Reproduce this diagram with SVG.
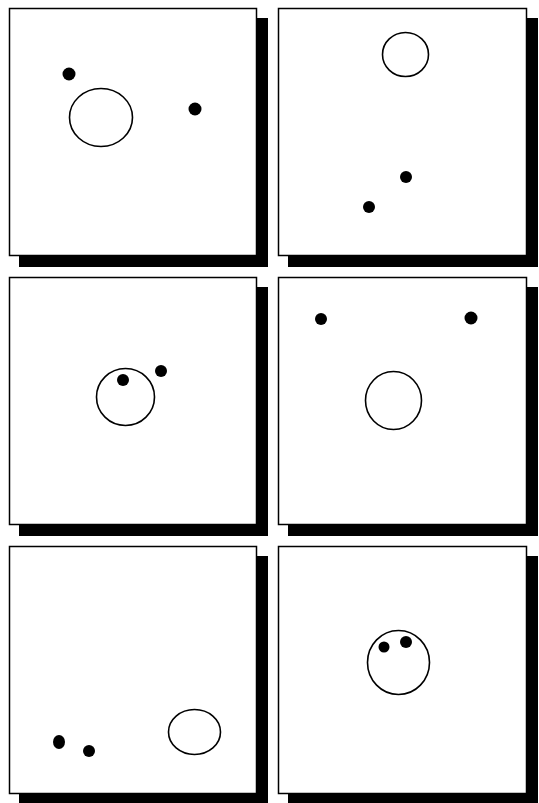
<svg xmlns="http://www.w3.org/2000/svg" width="539" height="803" viewBox="0 0 539 803">
<style>
.shadow{fill:#000}
.frame{fill:#fff;stroke:#000;stroke-width:1.5}
.ring{fill:none;stroke:#000;stroke-width:1.6}
.dot{fill:#000}
</style>
<rect width="539" height="803" fill="#fff"/>
<g id="panel1">
<rect class="shadow" x="19" y="18" width="249" height="249"/>
<rect class="frame" x="9.5" y="8.5" width="247" height="247"/>
<ellipse class="ring" cx="101" cy="117.5" rx="31.5" ry="29"/>
<circle class="dot" cx="69" cy="74" r="6.5"/>
<circle class="dot" cx="195" cy="109" r="6.5"/>
</g>
<g id="panel2">
<rect class="shadow" x="288" y="18" width="250" height="249"/>
<rect class="frame" x="278.5" y="8.5" width="248" height="247"/>
<ellipse class="ring" cx="405.5" cy="54.5" rx="23" ry="22"/>
<circle class="dot" cx="406" cy="177" r="6"/>
<circle class="dot" cx="369" cy="207" r="6"/>
</g>
<g id="panel3">
<rect class="shadow" x="19" y="287" width="249" height="249"/>
<rect class="frame" x="9.5" y="277.5" width="247" height="247"/>
<ellipse class="ring" cx="125.5" cy="397" rx="29" ry="28.5"/>
<circle class="dot" cx="123" cy="380" r="6"/>
<circle class="dot" cx="161" cy="371" r="6"/>
</g>
<g id="panel4">
<rect class="shadow" x="288" y="287" width="250" height="249"/>
<rect class="frame" x="278.5" y="277.5" width="248" height="247"/>
<ellipse class="ring" cx="393.5" cy="400.5" rx="28" ry="29"/>
<circle class="dot" cx="321" cy="319" r="6"/>
<circle class="dot" cx="471" cy="318" r="6.5"/>
</g>
<g id="panel5">
<rect class="shadow" x="19" y="556" width="249" height="249"/>
<rect class="frame" x="9.5" y="546.5" width="247" height="247"/>
<ellipse class="ring" cx="194.5" cy="732" rx="26" ry="22.5"/>
<ellipse class="dot" cx="59" cy="742" rx="6" ry="7"/>
<circle class="dot" cx="89" cy="751" r="6"/>
</g>
<g id="panel6">
<rect class="shadow" x="288" y="556" width="250" height="249"/>
<rect class="frame" x="278.5" y="546.5" width="248" height="247"/>
<ellipse class="ring" cx="398.5" cy="662.5" rx="31" ry="32"/>
<circle class="dot" cx="384" cy="647" r="5.5"/>
<circle class="dot" cx="406" cy="642" r="6"/>
</g>
</svg>
